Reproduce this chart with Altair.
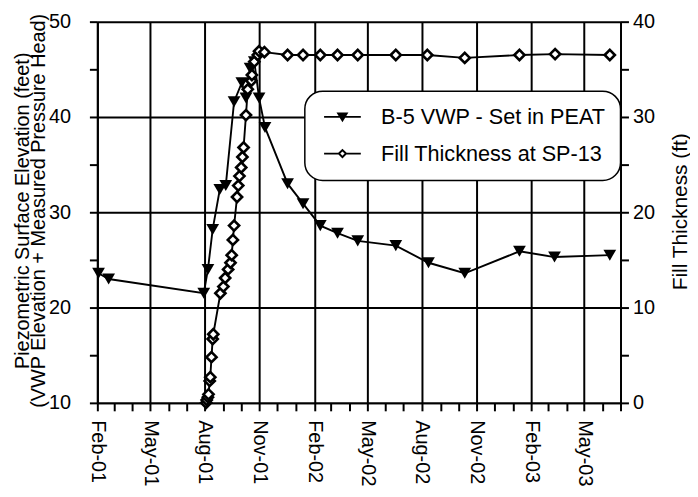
import altair as alt
import pandas as pd

FONT = "Liberation Sans"

# ---- data ----
vwp_name = "B-5 VWP - Set in PEAT"
fill_name = "Fill Thickness at SP-13"

vwp_dates = ["2001-02-03", "2001-02-20", "2001-07-30", "2001-08-06", "2001-08-14",
             "2001-08-26", "2001-09-05", "2001-09-19", "2001-10-02", "2001-10-09",
             "2001-10-16", "2001-10-23", "2001-10-31", "2001-11-10", "2001-12-18",
             "2002-01-13", "2002-02-11", "2002-03-12", "2002-04-15", "2002-06-18",
             "2002-08-12", "2002-10-12", "2003-01-12", "2003-03-12", "2003-06-13"]
vwp_vals = [23.6, 23.0, 21.5, 24.0, 28.2,
            32.4, 32.8, 41.6, 43.6, 42.0,
            45.1, 45.8, 42.0, 38.9, 33.0,
            30.9, 28.6, 27.8, 27.0, 26.5,
            24.7, 23.6, 25.9, 25.3, 25.5]

fill_dates = ["2001-08-03", "2001-08-04", "2001-08-06", "2001-08-07", "2001-08-09",
              "2001-08-10", "2001-08-12", "2001-08-14", "2001-08-15", "2001-08-27",
              "2001-09-01", "2001-09-04", "2001-09-09", "2001-09-13", "2001-09-15",
              "2001-09-17", "2001-09-19", "2001-09-24", "2001-09-26", "2001-09-28",
              "2001-10-01", "2001-10-03", "2001-10-05", "2001-10-09", "2001-10-12",
              "2001-10-18", "2001-10-19", "2001-10-23", "2001-10-29", "2001-10-31",
              "2001-11-09", "2001-12-18", "2002-01-13", "2002-02-11", "2002-03-12",
              "2002-04-15", "2002-06-18", "2002-08-10", "2002-10-12", "2003-01-12",
              "2003-03-13", "2003-06-13"]
fill_vals = [0.0, 0.3, 0.6, 0.9, 2.3,
             2.7, 4.8, 6.7, 7.2, 11.5,
             12.2, 13.1, 14.0, 14.7, 15.5,
             17.1, 18.6, 21.6, 22.8, 23.8,
             24.7, 25.8, 26.8, 30.2, 32.9,
             33.8, 34.4, 35.8, 36.5, 36.9,
             36.8, 36.5, 36.5, 36.5, 36.5,
             36.5, 36.5, 36.5, 36.2, 36.5,
             36.6, 36.5]

left_ticks = [10, 15, 20, 25, 30, 35, 40, 45, 50]
right_ticks = [0, 5, 10, 15, 20, 25, 30, 35, 40]

df_v = pd.DataFrame({"date": vwp_dates, "value": vwp_vals})
df_f = pd.DataFrame({"date": fill_dates, "value": fill_vals})
df_leg = pd.DataFrame({"series": [vwp_name, fill_name]})

# monthly ticks Feb-01 .. Jul-03
month_ticks = []
y, m = 2001, 2
while (y, m) <= (2003, 7):
    month_ticks.append(alt.DateTime(year=y, month=m, date=1, utc=True))
    m += 1
    if m > 12:
        m = 1
        y += 1

x_enc = alt.X(
    "date:T",
    scale=alt.Scale(type="utc",
                    domain=[alt.DateTime(year=2001, month=2, date=1, utc=True),
                            alt.DateTime(year=2003, month=7, date=1, utc=True)]),
    axis=alt.Axis(
        values=month_ticks,
        labelExpr="utcmonth(datum.value) % 3 == 1 ? utcFormat(datum.value, '%b-%y') : ''",
        labelAngle=90,
        labelAlign="left",
        labelBaseline="middle",
        labelPadding=9,
        labelOverlap=False,
        labelFlush=False,
        gridOpacity={"condition": {"test": "utcmonth(datum.value) % 3 == 1", "value": 1}, "value": 0},
        title=None,
    ),
)

y_left = alt.Y(
    "value:Q",
    scale=alt.Scale(domain=[10, 50], nice=False, zero=False),
    axis=alt.Axis(
        orient="left",
        values=left_ticks,
        labelExpr="datum.value % 10 == 0 ? datum.label : ''",
        labelPadding=19,
        gridOpacity={"condition": {"test": "datum.value % 10 == 0", "value": 1}, "value": 0},
        title=["Piezometric Surface Elevation (feet)",
               "(VWP Elevation + Measured Pressure Head)"],
        titleAngle=270,
        titleX=-75,
        titleY=190,
        titleAlign="center",
        titleBaseline="middle",
        titleLineHeight=16,
        titleFontSize=20,
    ),
)

y_right = alt.Y(
    "value:Q",
    scale=alt.Scale(domain=[0, 40], nice=False, zero=False),
    axis=alt.Axis(
        orient="right",
        values=right_ticks,
        labelExpr="datum.value % 10 == 0 ? datum.label : ''",
        labelPadding=4,
        grid=False,
        title="Fill Thickness (ft)",
        titleAngle=270,
        titleX=60,
        titleY=191,
        titleAlign="center",
        titleBaseline="middle",
        titleFontSize=21,
    ),
)

line_v = alt.Chart(df_v).mark_line(color="black", strokeWidth=1.9).encode(x=x_enc, y=y_left)
pts_v = alt.Chart(df_v).mark_point(shape="triangle-down", filled=True, color="black",
                                   size=165, opacity=1).encode(x=x_enc, y=y_left)
layer_v = alt.layer(line_v, pts_v)

line_f = alt.Chart(df_f).mark_line(color="black", strokeWidth=1.9).encode(x=x_enc, y=y_right)
pts_f = alt.Chart(df_f).mark_point(shape="diamond", filled=False, fill="white", stroke="black",
                                   strokeWidth=2.6, size=105, opacity=1).encode(x=x_enc, y=y_right)
layer_f = alt.layer(line_f, pts_f)

tri_path = ("M-1.85,-0.09L1.85,-0.09L1.85,0.09L-1.85,0.09Z "
            "M-0.6,-0.45L0.6,-0.45L0,0.55Z")
dia_path = ("M-1.85,-0.09L-0.4,-0.09L-0.4,0.09L-1.85,0.09Z "
            "M0.4,-0.09L1.85,-0.09L1.85,0.09L0.4,0.09Z "
            "M0,-0.5L0.5,0L0,0.5L-0.5,0Z "
            "M0,-0.22L-0.22,0L0,0.22L0.22,0Z")

legend_layer = alt.Chart(df_leg).transform_filter("false").mark_point(
    filled=True, color="black", opacity=1, size=400
).encode(
    shape=alt.Shape(
        "series:N",
        scale=alt.Scale(domain=[vwp_name, fill_name], range=[tri_path, dia_path]),
        legend=alt.Legend(
            orient="none", legendX=209, legendY=70, title=None,
            fillColor="white", strokeColor="black", cornerRadius=18, padding=15,
            labelFontSize=21.8, labelFont=FONT, labelColor="black", labelLimit=500,
            symbolOffset=12, labelOffset=28, rowPadding=14,
            symbolSize=400, symbolStrokeWidth=0, symbolFillColor="black",
        ),
    )
)

chart = alt.layer(layer_v, layer_f, legend_layer).resolve_scale(
    y="independent"
).properties(
    width=527, height=384,
    autosize=alt.AutoSizeParams(type="none"),
    padding={"left": 90, "top": 12, "right": 70, "bottom": 86},
).configure_view(stroke=None).configure_axis(
    domainColor="black", domainWidth=2,
    tickColor="black", tickWidth=2, tickSize=8,
    gridColor="black", gridWidth=2,
    labelFont=FONT, labelFontSize=20, labelColor="black",
    titleFont=FONT, titleFontWeight="normal", titleColor="black",
).configure_legend(strokeWidth=1.5)

chart.save("out.html", embed_options={"renderer": "svg", "actions": False})
